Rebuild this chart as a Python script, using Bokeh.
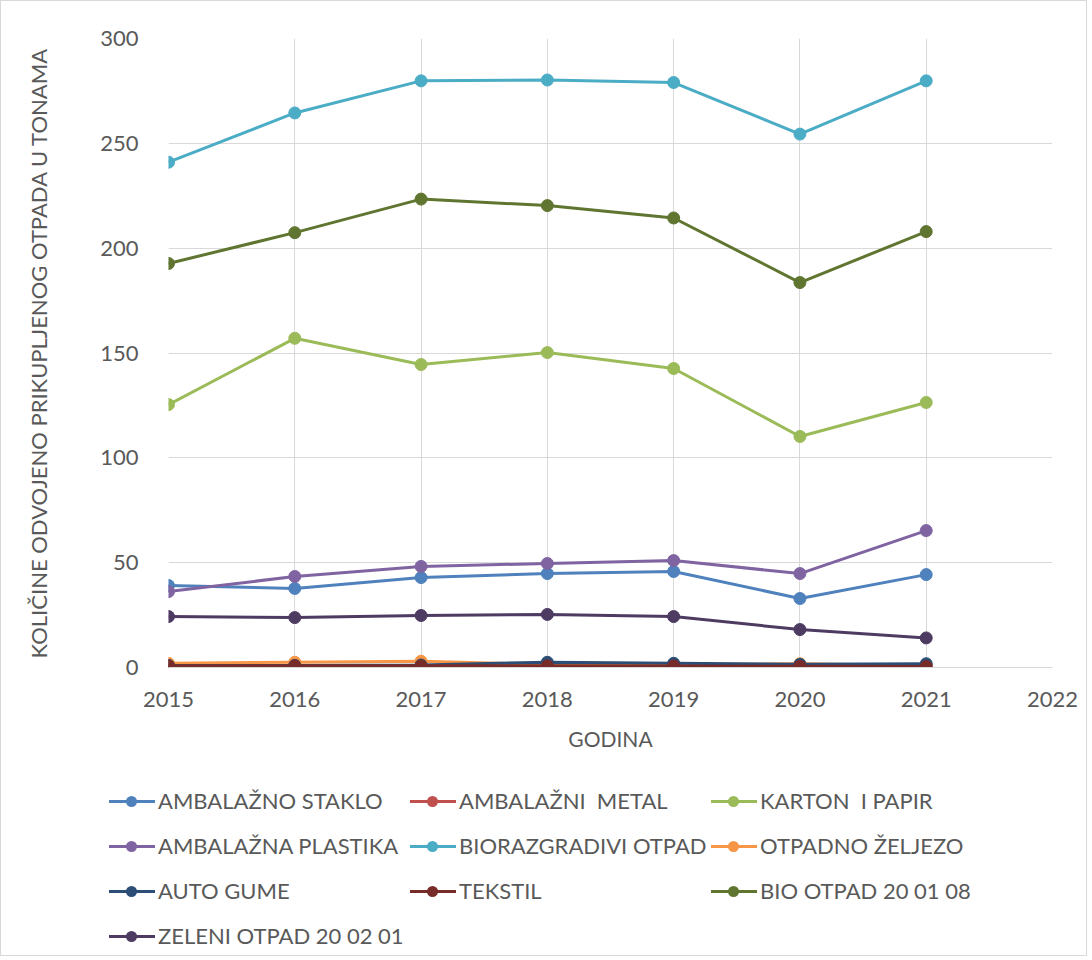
from bokeh.plotting import figure
from bokeh.layouts import column
from bokeh.models import FixedTicker, Range1d, Div
from bokeh.embed import file_html
from bokeh.resources import INLINE

years = [2015, 2016, 2017, 2018, 2019, 2020, 2021]

ambalazno_staklo = [39.1, 37.7, 42.9, 44.8, 45.8, 32.9, 44.3]
ambalazni_metal = [0.5, 0.5, 0.5, 0.5, 0.5, 0.4, 0.4]
karton_papir = [125.4, 157.0, 144.5, 150.2, 142.6, 110.2, 126.4]
ambalazna_plastika = [36.2, 43.4, 48.2, 49.6, 51.0, 44.8, 65.3]
biorazgradivi = [241.0, 264.5, 279.8, 280.2, 279.0, 254.4, 279.8]
otpadno_zeljezo = [2.0, 2.5, 3.0, 1.5, 1.5, 1.8, 1.0]
auto_gume = [1.0, 1.0, 1.2, 2.5, 2.0, 1.5, 1.8]
tekstil = [0.8, 0.8, 0.8, 0.8, 0.7, 0.6, 0.5]
bio_otpad = [192.7, 207.4, 223.4, 220.3, 214.4, 183.6, 207.9]
zeleni_otpad = [24.3, 23.8, 24.8, 25.3, 24.3, 18.1, 14.1]

series_names = ["AMBALAŽNO STAKLO", "AMBALAŽNI  METAL", "KARTON  I PAPIR",
                "AMBALAŽNA PLASTIKA", "BIORAZGRADIVI OTPAD", "OTPADNO ŽELJEZO",
                "AUTO GUME", "TEKSTIL", "BIO OTPAD 20 01 08", "ZELENI OTPAD 20 02 01"]
series_values = [ambalazno_staklo, ambalazni_metal, karton_papir, ambalazna_plastika,
                 biorazgradivi, otpadno_zeljezo, auto_gume, tekstil, bio_otpad, zeleni_otpad]
colors = ["#4F81BD", "#C0504D", "#9BBB59", "#8064A2", "#4BACC6", "#F79646",
          "#2C4D75", "#772C2A", "#5F7530", "#4D3B62"]

x_ticks = [2015, 2016, 2017, 2018, 2019, 2020, 2021, 2022]
y_ticks = [0, 50, 100, 150, 200, 250, 300]

FONT = "Lato"
TXT = "#595959"
W = 1085

p = figure(width=W, height=760, output_backend="svg", toolbar_location=None,
           x_range=Range1d(2015, 2022), y_range=Range1d(0, 300),
           min_border_left=167, min_border_right=34, min_border_top=37, min_border_bottom=94)
p.outline_line_color = None

for name, vals, c in zip(series_names, series_values, colors):
    p.line(years, vals, line_color=c, line_width=3)
    p.scatter(years, vals, marker="circle", size=12, fill_color=c, line_color=c)

p.xaxis.ticker = FixedTicker(ticks=x_ticks)
p.yaxis.ticker = FixedTicker(ticks=y_ticks)
for ax in (p.xaxis[0], p.yaxis[0]):
    ax.major_label_text_font = FONT
    ax.major_label_text_font_size = "22px"
    ax.major_label_text_color = TXT
    ax.major_tick_line_color = None
    ax.minor_tick_line_color = None
    ax.axis_label_text_font = FONT
    ax.axis_label_text_font_size = "22px"
    ax.axis_label_text_color = TXT
    ax.axis_label_text_font_style = "normal"
p.xaxis.axis_line_color = "#D9D9D9"
p.yaxis.axis_line_color = None
p.xaxis.axis_label = "GODINA"
p.xaxis.axis_label_text_font_size = "21px"
p.yaxis.axis_label = "KOLIČINE ODVOJENO PRIKUPLJENOG OTPADA U TONAMA"
p.xaxis.major_label_standoff = 18
p.yaxis.major_label_standoff = 24
p.xaxis.axis_label_standoff = 16
p.yaxis.axis_label_standoff = 45
p.xgrid.grid_line_color = "#D9D9D9"
p.ygrid.grid_line_color = "#D9D9D9"

# legend below the chart: 3 columns, row-major order
col_x = [108, 409, 710]
row_y0, row_dy = 40, 45
parts = []
for i, (name, c) in enumerate(zip(series_names, colors)):
    lx = col_x[i % 3]
    cy = row_y0 + row_dy * (i // 3)
    parts.append(
        f'<div style="position:absolute;left:{lx}px;top:{cy - 14}px;height:28px;'
        f'display:flex;align-items:center;white-space:pre;">'
        f'<span style="position:relative;display:inline-block;width:46px;height:3px;background:{c};">'
        f'<span style="position:absolute;left:17px;top:-4px;width:11px;height:11px;'
        f'border-radius:50%;background:{c};"></span></span>'
        f'<span style="margin-left:3px;">{name}</span></div>'
    )
legend_html = (f'<div style="position:relative;width:{W}px;height:194px;'
               f'font-family:Lato;font-size:22px;color:{TXT};line-height:28px;">'
               + "".join(parts) + '</div>')
leg = Div(text=legend_html, width=W, height=194, margin=0)

layout = column(p, leg, spacing=0, styles={"border": "1px solid #D9D9D9"})

open("out.html", "w").write(file_html(layout, INLINE))
